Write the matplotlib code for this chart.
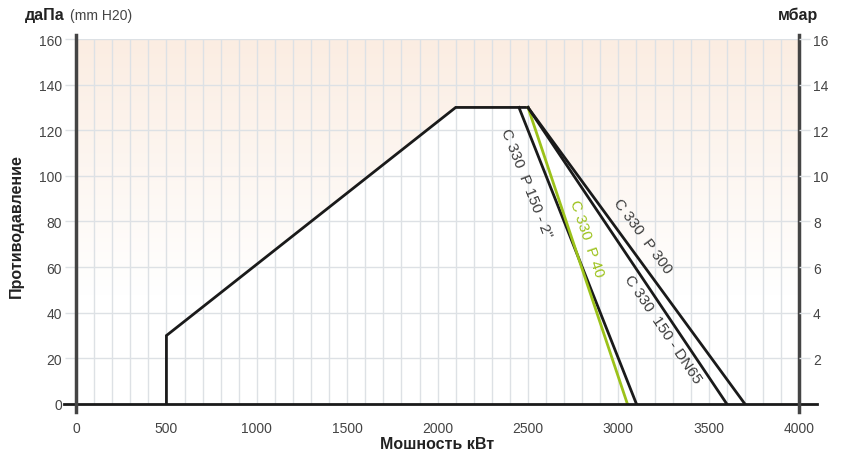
import numpy as np
import matplotlib.pyplot as plt
from matplotlib.colors import LinearSegmentedColormap

plt.rcParams["font.family"] = ["Liberation Sans", "DejaVu Sans"]

# ------------------------------------------------------------------
# Data (kW, daPa)
# ------------------------------------------------------------------
envelope_x = [500, 500, 2100, 2500]
envelope_y = [0, 30, 130, 130]

curves = {
    "C 330  P 150 - 2\"": ([2450, 3100], [130, 0]),
    "C 330  P 40": ([2500, 3050], [130, 0]),
    "C 330  150 - DN65": ([2500, 3600], [130, 0]),
    "C 330  P 300": ([2500, 3700], [130, 0]),
}
curve_colors = {
    "C 330  P 150 - 2\"": "#1a1a1a",
    "C 330  P 40": "#9cc21a",
    "C 330  150 - DN65": "#1a1a1a",
    "C 330  P 300": "#1a1a1a",
}
# label anchor points (kW, daPa)
label_pos = {
    "C 330  P 150 - 2\"": (2490, 97),
    "C 330  P 40": (2825, 73),
    "C 330  150 - DN65": (3245, 33),
    "C 330  P 300": (3135, 74),
}

x_ticks = [0, 500, 1000, 1500, 2000, 2500, 3000, 3500, 4000]
y_ticks = [0, 20, 40, 60, 80, 100, 120, 140, 160]
mbar_ticks = [2, 4, 6, 8, 10, 12, 14, 16]

grid_color = "#dde1e5"

# ------------------------------------------------------------------
# Figure
# ------------------------------------------------------------------
fig = plt.figure(figsize=(8.43, 4.52), dpi=100)
ax = fig.add_axes([0.0902, 0.104, 0.8578, 0.8075])
ax.set_xlim(0, 4000)
ax.set_ylim(0, 160)

# background gradient: white at bottom -> peach at top
cmap = LinearSegmentedColormap.from_list(
    "bg", [(0.0, "#ffffff"), (0.3, "#ffffff"), (1.0, "#fbede2")]
)
grad = np.linspace(0, 1, 256).reshape(-1, 1)
ax.imshow(grad, extent=[0, 4000, 0, 160], origin="lower", aspect="auto",
          cmap=cmap, zorder=0)

# working area is white
ax.fill([500, 500, 2100, 2500, 3700], [0, 30, 130, 130, 0],
        color="white", zorder=1)

# grid
for xv in range(100, 4000, 100):
    ax.axvline(xv, color=grid_color, linewidth=1.0, zorder=2)
for yv in y_ticks[1:]:
    ax.axhline(yv, color=grid_color, linewidth=1.0, zorder=2)

# envelope
ax.plot(envelope_x, envelope_y, color="#1a1a1a", linewidth=2.0, zorder=4,
        solid_joinstyle="miter")

# curves
for name, (cx, cy) in curves.items():
    ax.plot(cx, cy, color=curve_colors[name], linewidth=2.0, zorder=4)

# rotated curve labels
for name, (cx, cy) in curves.items():
    p0 = ax.transData.transform((cx[0], cy[0]))
    p1 = ax.transData.transform((cx[1], cy[1]))
    ang = np.degrees(np.arctan2(p1[1] - p0[1], p1[0] - p0[0]))
    lx, ly = label_pos[name]
    col = "#9cc21a" if curve_colors[name] == "#9cc21a" else "#3c3c3c"
    ax.text(lx, ly, name, rotation=ang, rotation_mode="anchor",
            ha="center", va="center", fontsize=11, color=col, zorder=5)

# axes lines
for s in ax.spines.values():
    s.set_visible(False)
ax.plot([-0.017, 1.025], [0, 0], transform=ax.transAxes, color="#1a1a1a",
        linewidth=2.0, clip_on=False, zorder=6)
ax.plot([0, 0], [-0.022, 1.01], transform=ax.transAxes, color="#444444",
        linewidth=2.5, clip_on=False, zorder=6)
ax.plot([1, 1], [-0.022, 1.01], transform=ax.transAxes, color="#444444",
        linewidth=2.5, clip_on=False, zorder=6)

# ticks
ax.set_xticks(x_ticks)
ax.set_yticks(y_ticks)
ax.tick_params(axis="x", length=0, pad=12, labelsize=10, labelcolor="#444444")
ax.tick_params(axis="y", length=8, width=1.0, color=grid_color, pad=2,
               labelsize=10, labelcolor="#444444")

ax2 = ax.twinx()
ax2.set_ylim(0, 16)
ax2.set_yticks(mbar_ticks)
for s in ax2.spines.values():
    s.set_visible(False)
ax2.tick_params(axis="y", length=8, width=1.0, color=grid_color, pad=2,
                labelsize=10, labelcolor="#444444")

# titles
fig.text(0.030, 0.955, "даПа", fontsize=11.5, fontweight="bold",
         color="#222222")
fig.text(0.083, 0.955, "(mm H20)", fontsize=10, color="#444444")
fig.text(0.923, 0.955, "мбар", fontsize=11.5, fontweight="bold",
         color="#222222")
ax.set_xlabel("Мошность кВт", fontsize=11.5, fontweight="bold",
              color="#222222", labelpad=1)
fig.text(0.020, 0.50, "Противодавление", rotation=90, fontsize=11.5,
         fontweight="bold", color="#222222", ha="center", va="center")

plt.savefig("out.png", dpi=100)
